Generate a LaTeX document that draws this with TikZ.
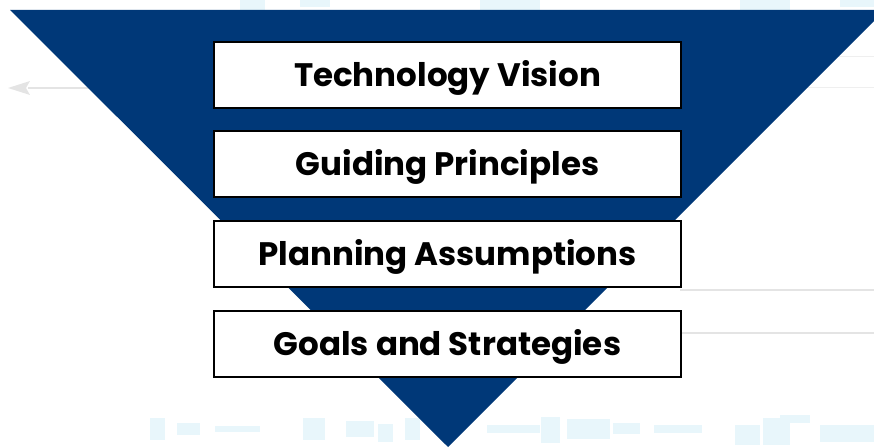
\documentclass[tikz,border=0pt]{standalone}
\usepackage{fontspec}
\setmainfont{Poppins}
\definecolor{triblue}{RGB}{0,56,120}
\definecolor{faintblue}{RGB}{232,246,251}
\definecolor{faintgray}{RGB}{228,228,228}
\begin{document}
\begin{tikzpicture}[x=1pt,y=1pt,
  levelbox/.style={draw=black, line width=2pt, fill=white, minimum width=467pt, minimum height=66pt, inner sep=0pt,
    text height=23pt, text depth=0pt,
    font=\fontsize{32.5}{38}\selectfont\bfseries, text=black}]
\useasboundingbox (0,0) rectangle (874,447);
\clip (0,0) rectangle (874,447);
% faint background watermark
\draw[faintgray, line width=2pt] (28,359) -- (120,359);
\fill[faintgray] (8,359) -- (30,366) -- (26,359) -- (30,352) -- cycle;
\draw[faintgray, line width=1.2pt] (680,157) -- (874,157);
\draw[faintgray, line width=1.2pt] (680,114) -- (874,114);
\draw[faintgray!60, line width=1pt] (800,390) -- (874,390);
\draw[faintgray!60, line width=1pt] (800,359) -- (874,359);
\foreach \xa/\xb/\ya/\yb in {150/165/7/29, 177/200/12/24, 215/260/15/21, 303/325/7/29, 346/374/10/26, 378/393/5/23, 405/420/7/29,
  487/540/14/22, 541/560/4/30, 567/610/8/28, 613/640/13/24, 654/702/14/22, 735/760/2/22, 763/790/2/29, 820/874/5/22, 780/810/24/32}
  \fill[faintblue] (\xa,\ya) rectangle (\xb,\yb);
\foreach \xa/\xb/\ya/\yb in {240/265/437/447, 300/330/440/447, 480/540/437/447, 740/790/437/447, 840/874/440/447}
  \fill[faintblue] (\xa,\ya) rectangle (\xb,\yb);
% triangle
\fill[triblue] (10,437) -- (885,437) -- (448,0) -- cycle;
% boxes
\node[levelbox] (vision) at (447.5,372) {Technology Vision};
\node[levelbox] (principles) at (447.5,283) {Guiding Principles};
\node[levelbox] (assumptions) at (447.5,193) {Planning Assumptions};
\node[levelbox] (goals) at (447.5,103) {Goals and Strategies};
\end{tikzpicture}
\end{document}
